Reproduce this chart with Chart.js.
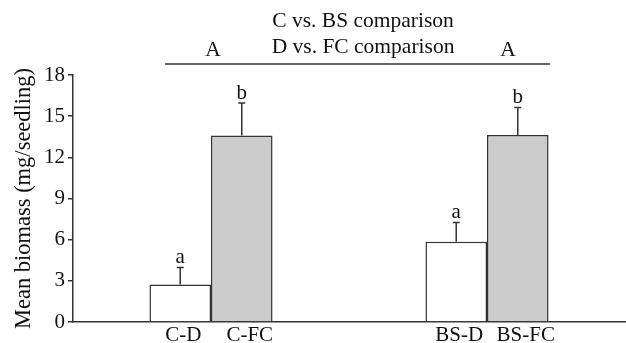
<!DOCTYPE html>
<html lang="en">
<head>
    <meta charset="UTF-8">
    <title>Mean biomass</title>
    <script src="https://cdn.jsdelivr.net/npm/chart.js"></script>
    <style>
        html, body { margin: 0; padding: 0; background: #fff; }
        #wrap { width: 626px; height: 343px; }
    </style>
</head>
<body>
    <div id="wrap"><canvas id="biomassChart" width="626" height="343"></canvas></div>
    <script>
        // data
        const groups = ['C', 'BS'];
        const droughtMeans = [2.73, 5.85];
        const droughtErr = [1.25, 1.41];
        const fcMeans = [13.6, 13.63];
        const fcErr = [2.36, 2.01];
        const droughtLabels = ['C-D', 'BS-D'];
        const fcLabels = ['C-FC', 'BS-FC'];
        const droughtLetters = ['a', 'a'];
        const fcLetters = ['b', 'b'];
        const groupLetters = ['A', 'A'];
        const yTicks = [0, 3, 6, 9, 12, 15, 18];

        const serif = '"Liberation Serif", "Times New Roman", serif';
        const ink = '#333';

        // error bars, significance letters and bar labels
        const extras = {
            id: 'extras',
            afterDatasetsDraw(chart) {
                const ctx = chart.ctx;
                const y = chart.scales.y;
                const errs = [droughtErr, fcErr];
                const letters = [droughtLetters, fcLetters];
                const names = [droughtLabels, fcLabels];
                const nameShift = [3, 8];
                ctx.save();
                chart.data.datasets.forEach((ds, di) => {
                    chart.getDatasetMeta(di).data.forEach((bar, i) => {
                        const top = y.getPixelForValue(ds.data[i] + errs[di][i]);
                        ctx.strokeStyle = ink;
                        ctx.lineWidth = 1.5;
                        ctx.beginPath();
                        ctx.moveTo(bar.x, bar.y);
                        ctx.lineTo(bar.x, top);
                        ctx.moveTo(bar.x - 3.5, top);
                        ctx.lineTo(bar.x + 3.5, top);
                        ctx.stroke();
                        ctx.fillStyle = '#111';
                        ctx.font = '21px ' + serif;
                        ctx.textAlign = 'center';
                        ctx.textBaseline = 'alphabetic';
                        ctx.fillText(letters[di][i], bar.x, top - 4);
                        ctx.font = '21px ' + serif;
                        ctx.textBaseline = 'middle';
                        ctx.fillText(names[di][i], bar.x + nameShift[di], chart.chartArea.bottom + 13);
                    });
                });
                // comparison header
                ctx.font = '21.5px ' + serif;
                ctx.textAlign = 'center';
                ctx.textBaseline = 'middle';
                ctx.fillText('C vs. BS comparison', 363, 21);
                ctx.fillText('D vs. FC comparison', 363, 47);
                ctx.fillText(groupLetters[0], 213, 50);
                ctx.fillText(groupLetters[1], 508, 50);
                ctx.strokeStyle = ink;
                ctx.lineWidth = 1.5;
                ctx.beginPath();
                ctx.moveTo(165, 64);
                ctx.lineTo(550, 64);
                ctx.stroke();
                ctx.restore();
            }
        };

        const ctx = document.getElementById('biomassChart').getContext('2d');
        new Chart(ctx, {
            type: 'bar',
            data: {
                labels: groups,
                datasets: [{
                    label: 'D',
                    data: droughtMeans,
                    backgroundColor: '#ffffff',
                    borderColor: ink,
                    borderWidth: 1.5
                }, {
                    label: 'FC',
                    data: fcMeans,
                    backgroundColor: '#cccccc',
                    borderColor: ink,
                    borderWidth: 1.5
                }]
            },
            options: {
                responsive: false,
                animation: false,
                categoryPercentage: 0.446,
                barPercentage: 1.0,
                layout: { padding: { top: 75, right: 1, left: 0, bottom: 0 } },
                plugins: { legend: { display: false }, tooltip: { enabled: false } },
                scales: {
                    x: {
                        grid: { display: false },
                        border: { color: ink, width: 1.5 },
                        ticks: { display: false },
                        afterFit(scale) { scale.height = 21; }
                    },
                    y: {
                        min: 0,
                        max: 18,
                        afterBuildTicks(scale) { scale.ticks = yTicks.map(v => ({ value: v })); },
                        grid: { drawOnChartArea: false, drawTicks: true, tickLength: 5, color: ink, lineWidth: 1.5 },
                        border: { color: ink, width: 1.5 },
                        ticks: { color: '#111', padding: 3, font: { family: serif, size: 21 } },
                        title: {
                            display: true,
                            text: 'Mean biomass (mg/seedling)',
                            color: '#111',
                            font: { family: serif, size: 22.5 },
                            padding: { top: 11, bottom: 0 }
                        },
                        afterFit(scale) { scale.width = 73; }
                    }
                }
            },
            plugins: [extras]
        });
    </script>
</body>
</html>
